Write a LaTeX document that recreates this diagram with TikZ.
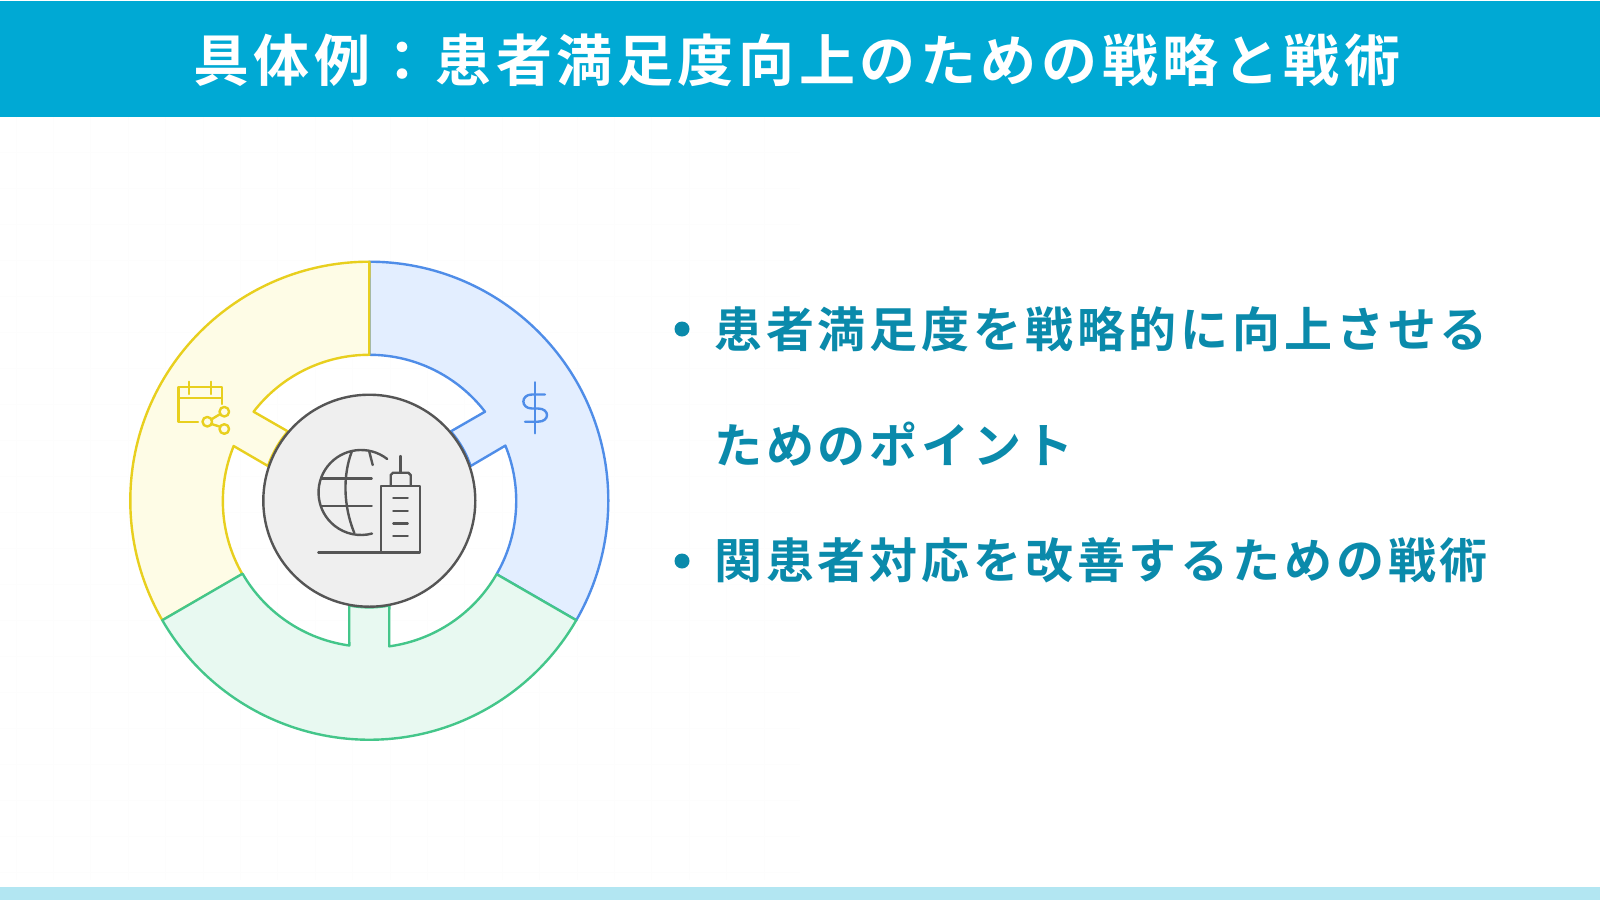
\documentclass[tikz,border=0pt]{standalone}
\usepackage{fontspec}
\newfontfamily\jpt[LetterSpace=8.2]{Noto Sans CJK JP Bold}
\newfontfamily\jpb[LetterSpace=8.0]{Noto Sans CJK JP Bold}
\definecolor{hdr}{HTML}{00A9D4}
\definecolor{strip}{HTML}{B2E6F2}
\definecolor{bodyc}{HTML}{0A8AAB}
\definecolor{bluel}{HTML}{4F8DE8}
\definecolor{bluef}{HTML}{E3EEFF}
\definecolor{yell}{HTML}{E8CF1E}
\definecolor{yelf}{HTML}{FEFCE6}
\definecolor{grnl}{HTML}{44C68A}
\definecolor{grnf}{HTML}{E8F9F1}
\definecolor{gryl}{HTML}{555555}
\definecolor{gryf}{HTML}{EFEFEF}
\definecolor{faint}{HTML}{FDFDFD}
\tikzset{
 titletext/.style={anchor=west,inner sep=0pt,text=white,font=\fontsize{56}{56}\selectfont\jpt},
 bodytext/.style={anchor=west,inner sep=0pt,text=bodyc,font=\fontsize{48}{48}\selectfont\jpb},
 bulletdot/.style={circle,fill=bodyc,minimum size=15pt,inner sep=0pt},
 seg/.style={line width=2.4pt,line join=round},
 icon/.style={line width=2.4pt,line cap=round,line join=round},
 hub/.style={circle,draw=gryl,fill=gryf,line width=2.4pt,minimum size=212pt,inner sep=0pt},
}
\begin{document}
\begin{tikzpicture}[x=1pt,y=-1pt]
\useasboundingbox (0,0) rectangle (1600,900);
\fill[white] (0,0) rectangle (1600,900);
\foreach \gx in {16,53.4,...,800} \draw[faint,line width=1pt] (\gx,117) -- (\gx,880);
\foreach \gy in {152,188,...,880} \draw[faint,line width=1pt] (0,\gy) -- (800,\gy);
\fill[hdr] (0,1) rectangle (1600,117);
\fill[strip] (0,887) rectangle (1600,900);
\node[titletext] (title) at (193,60) {具体例：患者満足度向上のための戦略と戦術};
\coordinate (c) at (369.3,500.7);
% blue
\draw[seg,draw=bluel,fill=bluef] (369.3,261.7) arc[start angle=-90,end angle=30,radius=239]
 -- (496.6,574.2) arc[start angle=30,end angle=-22.2,radius=146.5]
 -- (470.7,466) arc[start angle=-19,end angle=-40.5,radius=107]
 -- (485,411.7) arc[start angle=-37.6,end angle=-90,radius=146] -- cycle;
% yellow
\draw[seg,draw=yell,fill=yelf] (369.3,261.7) arc[start angle=-90,end angle=-210,radius=239]
 -- (242.4,574.2) arc[start angle=150,end angle=202.2,radius=146]
 -- (268,466) arc[start angle=199,end angle=220.5,radius=107]
 -- (253.6,411.7) arc[start angle=217.6,end angle=270,radius=146] -- cycle;
% green
\draw[seg,draw=grnl,fill=grnf] (162.3,620.2) arc[start angle=150,end angle=30,radius=239]
 -- (496.6,574.2) arc[start angle=30,end angle=82.2,radius=147]
 -- (389.3,605.5) arc[start angle=79.2,end angle=100.8,radius=106.9]
 -- (349.3,645.5) arc[start angle=97.9,end angle=150,radius=146.5] -- cycle;
% hub
\node[hub] (hubc) at (c) {};
% globe + building icon
\begin{scope}[shift={(300,430)},icon]
 \draw[gryl] (87.2,29) arc[start angle=-52,end angle=-285,radius=42.5];
 \draw[gryl] (51.7,21.7) .. controls (43,45) and (43,75) .. (54.3,103);
 \draw[gryl] (69.3,21.7) -- (72.7,35);
 \draw[gryl] (21.7,48.3) -- (71.7,48.3);
 \draw[gryl] (21.7,76) -- (71.7,76);
 \draw[gryl] (18.3,122.3) -- (120,122.3) -- (120,56) -- (80.7,56) -- (80.7,122.3);
 \draw[gryl] (90.7,55) -- (90.7,45) -- (93,42.7) -- (108.4,42.7) -- (110.7,45) -- (110.7,55);
 \draw[gryl] (100.3,42.7) -- (100.3,26);
 \draw[gryl] (93.3,68) -- (107.7,68);
 \draw[gryl] (93.3,80.7) -- (107.7,80.7);
 \draw[gryl] (93.3,93.3) -- (107.7,93.3);
 \draw[gryl] (93.3,106) -- (107.7,106);
\end{scope}
% calendar share icon
\begin{scope}[shift={(165,370)},icon]
 \draw[yell] (33,51.7) -- (13.3,51.7) -- (13.3,16.7) -- (57,16.7) -- (57,34);
 \draw[yell] (13.3,28) -- (57,28);
 \draw[yell] (24,11.7) -- (24,24);
 \draw[yell] (46,11.7) -- (46,24);
 \draw[yell] (42.3,51.7) circle[radius=4.8];
 \draw[yell] (59.3,41.7) circle[radius=4.8];
 \draw[yell] (59.3,59) circle[radius=4.8];
 \draw[yell] (46.5,49.3) -- (55.1,44.1);
 \draw[yell] (46.5,54) -- (55.1,56.7);
\end{scope}
% dollar icon
\begin{scope}[shift={(510,375)},icon]
 \draw[bluel] (25,7.3) -- (25,58.3);
 \draw[bluel] (35,19.5) -- (22,19.5) .. controls (10.5,19.5) and (10.5,33.5) .. (22,33.5) -- (28,33.5) .. controls (40,33.5) and (40,46.7) .. (28,46.7) -- (15,46.7);
\end{scope}
% text
\node[bulletdot] (b1) at (682,329) {};
\node[bulletdot] (b2) at (682,561) {};
\node[bodytext] (t1) at (714,329) {患者満足度を戦略的に向上させる};
\node[bodytext] (t2) at (714,444) {ためのポイント};
\node[bodytext] (t3) at (714,560) {関患者対応を改善するための戦術};
\end{tikzpicture}
\end{document}
